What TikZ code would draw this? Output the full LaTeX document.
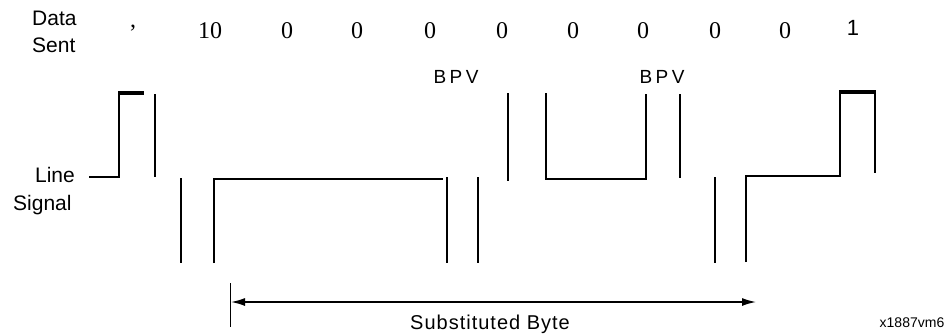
\documentclass[tikz,border=0pt]{standalone}
\usepackage{fontspec}
\setmainfont{Liberation Sans}
\newfontfamily\serifdig{Liberation Serif}
\usetikzlibrary{arrows.meta}
\begin{document}
\begin{tikzpicture}[x=1pt,y=-1pt,
  lbl/.style={font=\fontsize{21}{21}\selectfont, inner sep=0pt, anchor=base west},
  dig/.style={font=\serifdig\fontsize{24}{24}\selectfont, inner sep=0pt, anchor=base},
  bpv/.style={font=\addfontfeature{LetterSpace=18}\fontsize{19}{19}\selectfont, inner sep=0pt, anchor=base},
  sig/.style={line width=1.5pt, line join=miter},
  bar/.style={line width=3.5pt},
  tip/.style={{Latex[length=14pt,width=8pt]}-{Latex[length=14pt,width=8pt]}},
]
\useasboundingbox (0,0) rectangle (950,333);

% labels
\node[lbl] (data) at (32,25) {Data};
\node[lbl] (sent) at (32,52) {Sent};
\node[lbl, anchor=base east] (line) at (75,182) {Line};
\node[lbl] (signal) at (13,210) {Signal};

% data sent
\node[dig] (c0) at (133,27) {,};
\node[dig] (d0) at (210,38) {10};
\node[dig] (d1) at (287,38) {0};
\node[dig] (d2) at (357,38) {0};
\node[dig] (d3) at (430,38) {0};
\node[dig] (d4) at (502,38) {0};
\node[dig] (d5) at (573,38) {0};
\node[dig] (d6) at (643,38) {0};
\node[dig] (d7) at (715,38) {0};
\node[dig] (d8) at (785,38) {0};
\node[font=\fontsize{22}{22}\selectfont, inner sep=0pt, anchor=base] (d9) at (853,35) {1};

\node[bpv] (bpv1) at (456,83) {BPV};
\node[bpv] (bpv2) at (662,83) {BPV};

% waveform
\draw[sig] (89,177) -- (119,177) -- (119,93);
\draw[bar] (118,93) -- (144,93);
\draw[sig] (155,94) -- (155,177);
\draw[sig] (181,178) -- (181,263);
\draw[sig] (214,263) -- (214,179) -- (443,179);
\draw[sig] (447,177) -- (447,263);
\draw[sig] (478,177) -- (478,263);
\draw[sig] (508,93) -- (508,181);
\draw[sig] (546,93) -- (546,179) -- (646,179) -- (646,94);
\draw[sig] (680,94) -- (680,178);
\draw[sig] (715,177) -- (715,263);
\draw[sig] (746,262) -- (746,176) -- (840,176) -- (840,92);
\draw[bar] (839,92) -- (876,92);
\draw[sig] (875,92) -- (875,173);

% substituted byte arrow
\coordinate (tickT) at (230,283);
\coordinate (tickB) at (230,327);
\draw[line width=0.9pt] (tickT) -- (tickB);
\coordinate (aL) at (231,302);
\coordinate (aR) at (756,302);
\draw[line width=1.5pt, tip] (aL) -- (aR);

\node[font=\addfontfeature{LetterSpace=5}\fontsize{20}{20}\selectfont, inner sep=0pt, anchor=base] (sub) at (490,329) {Substituted Byte};
\node[font=\fontsize{14}{14}\selectfont, inner sep=0pt, anchor=base] (ref) at (912,327) {x1887vm6};
\end{tikzpicture}
\end{document}
